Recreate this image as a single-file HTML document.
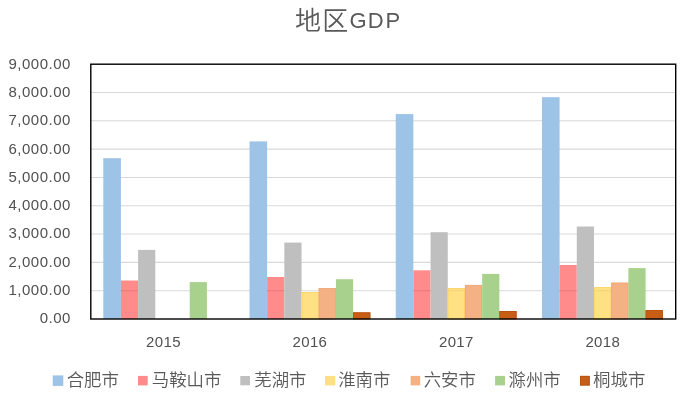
<!DOCTYPE html>
<html lang="zh-CN">
<head>
<meta charset="utf-8">
<title>地区GDP</title>
<style>
html,body{margin:0;padding:0;background:#fff;}
body{width:686px;height:406px;overflow:hidden;}
svg{display:block;}
text{font-family:"Liberation Sans","Noto Sans CJK SC",sans-serif;fill:#595959;}
.ax{font-size:15px;letter-spacing:0.5px;fill:#505050;}
.xl{font-size:15px;letter-spacing:0.35px;fill:#505050;}
.lg{font-size:17.4px;letter-spacing:0px;font-weight:350;}
.tc{font-size:26px;font-weight:350;letter-spacing:1.2px;}
.tl{font-size:22px;}
</style>
</head>
<body>
<svg width="686" height="406" viewBox="0 0 686 406">
<rect x="0" y="0" width="686" height="406" fill="#ffffff"/>

<g stroke="#D9D9D9" stroke-width="1.1">
<line x1="90.8" y1="290.69" x2="675.7" y2="290.69"/>
<line x1="90.8" y1="262.38" x2="675.7" y2="262.38"/>
<line x1="90.8" y1="234.07" x2="675.7" y2="234.07"/>
<line x1="90.8" y1="205.76" x2="675.7" y2="205.76"/>
<line x1="90.8" y1="177.44" x2="675.7" y2="177.44"/>
<line x1="90.8" y1="149.13" x2="675.7" y2="149.13"/>
<line x1="90.8" y1="120.82" x2="675.7" y2="120.82"/>
<line x1="90.8" y1="92.51" x2="675.7" y2="92.51"/>
</g>
<rect x="103.30" y="158.20" width="17.60" height="160.80" fill="#9DC3E6"/>
<rect x="120.91" y="280.50" width="17.20" height="38.50" fill="#FF8B8B"/>
<line x1="120.91" y1="290.69" x2="138.11" y2="290.69" stroke="#E87C7C" stroke-width="1.1"/>
<rect x="138.11" y="249.90" width="17.20" height="69.10" fill="#BFBFBF"/>
<rect x="189.72" y="282.10" width="17.20" height="36.90" fill="#A9D18E"/>
<rect x="249.53" y="141.40" width="17.60" height="177.60" fill="#9DC3E6"/>
<rect x="267.13" y="277.00" width="17.20" height="42.00" fill="#FF8B8B"/>
<line x1="267.13" y1="290.69" x2="284.33" y2="290.69" stroke="#E87C7C" stroke-width="1.1"/>
<rect x="284.33" y="242.60" width="17.20" height="76.40" fill="#BFBFBF"/>
<rect x="301.54" y="292.00" width="17.20" height="27.00" fill="#FFE083"/>
<rect x="301.94" y="292.40" width="16.40" height="26.60" fill="none" stroke="#FBD467" stroke-width="0.8"/>
<rect x="318.74" y="288.10" width="17.20" height="30.90" fill="#F4B183"/>
<rect x="319.14" y="288.50" width="16.40" height="30.50" fill="none" stroke="#EFA877" stroke-width="0.8"/>
<rect x="335.94" y="279.20" width="17.20" height="39.80" fill="#A9D18E"/>
<rect x="353.14" y="312.40" width="17.20" height="6.60" fill="#C85E16"/>
<rect x="353.54" y="312.80" width="16.40" height="6.20" fill="none" stroke="#B5500E" stroke-width="0.8"/>
<rect x="395.75" y="114.10" width="17.60" height="204.90" fill="#9DC3E6"/>
<rect x="413.36" y="270.30" width="17.20" height="48.70" fill="#FF8B8B"/>
<line x1="413.36" y1="290.69" x2="430.56" y2="290.69" stroke="#E87C7C" stroke-width="1.1"/>
<rect x="430.56" y="232.20" width="17.20" height="86.80" fill="#BFBFBF"/>
<rect x="447.76" y="288.05" width="17.20" height="30.95" fill="#FFE083"/>
<rect x="448.16" y="288.45" width="16.40" height="30.55" fill="none" stroke="#FBD467" stroke-width="0.8"/>
<line x1="447.76" y1="290.69" x2="464.96" y2="290.69" stroke="#F2D37A" stroke-width="1.1"/>
<rect x="464.96" y="284.95" width="17.20" height="34.05" fill="#F4B183"/>
<rect x="465.36" y="285.35" width="16.40" height="33.65" fill="none" stroke="#EFA877" stroke-width="0.8"/>
<rect x="482.17" y="273.90" width="17.20" height="45.10" fill="#A9D18E"/>
<rect x="499.37" y="311.10" width="17.20" height="7.90" fill="#C85E16"/>
<rect x="499.77" y="311.50" width="16.40" height="7.50" fill="none" stroke="#B5500E" stroke-width="0.8"/>
<rect x="541.98" y="97.20" width="17.60" height="221.80" fill="#9DC3E6"/>
<rect x="559.58" y="265.00" width="17.20" height="54.00" fill="#FF8B8B"/>
<line x1="559.58" y1="290.69" x2="576.78" y2="290.69" stroke="#E87C7C" stroke-width="1.1"/>
<rect x="576.78" y="226.50" width="17.20" height="92.50" fill="#BFBFBF"/>
<rect x="593.99" y="287.20" width="17.20" height="31.80" fill="#FFE083"/>
<rect x="594.39" y="287.60" width="16.40" height="31.40" fill="none" stroke="#FBD467" stroke-width="0.8"/>
<line x1="593.99" y1="290.69" x2="611.19" y2="290.69" stroke="#F2D37A" stroke-width="1.1"/>
<rect x="611.19" y="282.70" width="17.20" height="36.30" fill="#F4B183"/>
<rect x="611.59" y="283.10" width="16.40" height="35.90" fill="none" stroke="#EFA877" stroke-width="0.8"/>
<rect x="628.39" y="268.10" width="17.20" height="50.90" fill="#A9D18E"/>
<rect x="645.59" y="310.20" width="17.20" height="8.80" fill="#C85E16"/>
<rect x="645.99" y="310.60" width="16.40" height="8.40" fill="none" stroke="#B5500E" stroke-width="0.8"/>
<rect x="90.8" y="64.2" width="584.90" height="254.80" fill="none" stroke="#000" stroke-width="1.4"/>
<text class="ax" x="70.9" y="323.40" text-anchor="end">0.00</text>
<text class="ax" x="70.9" y="295.09" text-anchor="end">1,000.00</text>
<text class="ax" x="70.9" y="266.78" text-anchor="end">2,000.00</text>
<text class="ax" x="70.9" y="238.47" text-anchor="end">3,000.00</text>
<text class="ax" x="70.9" y="210.16" text-anchor="end">4,000.00</text>
<text class="ax" x="70.9" y="181.84" text-anchor="end">5,000.00</text>
<text class="ax" x="70.9" y="153.53" text-anchor="end">6,000.00</text>
<text class="ax" x="70.9" y="125.22" text-anchor="end">7,000.00</text>
<text class="ax" x="70.9" y="96.91" text-anchor="end">8,000.00</text>
<text class="ax" x="70.9" y="68.60" text-anchor="end">9,000.00</text>
<text class="xl" x="163.51" y="346.5" text-anchor="middle">2015</text>
<text class="xl" x="309.94" y="346.5" text-anchor="middle">2016</text>
<text class="xl" x="456.36" y="346.5" text-anchor="middle">2017</text>
<text class="xl" x="602.79" y="346.5" text-anchor="middle">2018</text>
<text class="tc" x="295" y="30.2">地区</text><text class="tl" x="349.4 367.7 385.5" y="28.4">GDP</text>
<rect x="52.8" y="375.4" width="10.5" height="10.5" fill="#9DC3E6"/>
<text class="lg" x="66.70" y="386.3">合肥市</text>
<rect x="138.0" y="375.9" width="9.7" height="9.5" fill="#FF8B8B"/>
<text class="lg" x="151.75" y="386.3">马鞍山市</text>
<rect x="240.3" y="376.0" width="9.7" height="9.3" fill="#BFBFBF"/>
<text class="lg" x="254.25" y="386.3">芜湖市</text>
<rect x="325.0" y="375.9" width="10.3" height="9.5" fill="#FFE083"/>
<text class="lg" x="338.20" y="386.3">淮南市</text>
<rect x="410.6" y="375.9" width="9.6" height="9.5" fill="#F4B183"/>
<text class="lg" x="423.65" y="386.3">六安市</text>
<rect x="495.1" y="375.9" width="9.9" height="9.5" fill="#A9D18E"/>
<text class="lg" x="508.55" y="386.3">滁州市</text>
<rect x="580.0" y="375.9" width="9.7" height="9.6" fill="#C85E16"/>
<rect x="580.4" y="376.3" width="8.9" height="8.8" fill="none" stroke="#B5500E" stroke-width="0.8"/>
<text class="lg" x="593.10" y="386.3">桐城市</text>
</svg>
</body>
</html>
